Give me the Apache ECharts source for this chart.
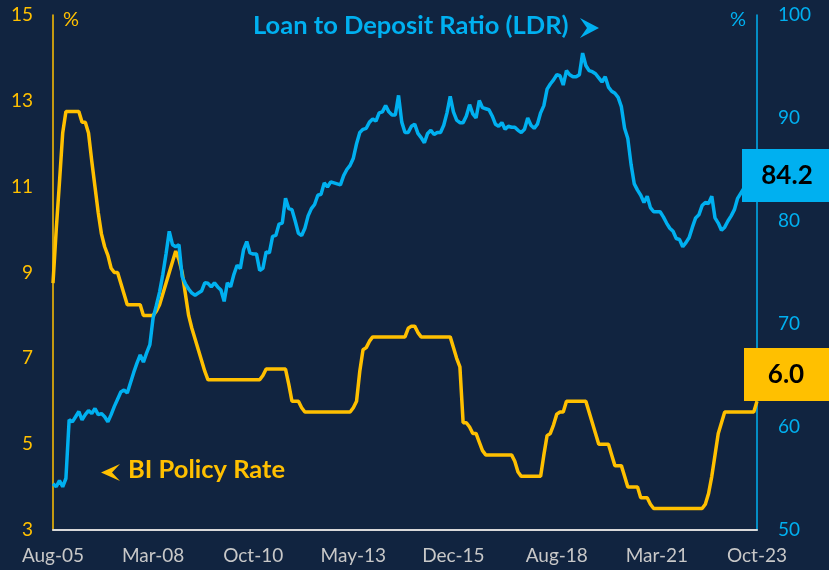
<!DOCTYPE html>
<html>
<head>
<meta charset="utf-8">
<script src="https://cdn.jsdelivr.net/npm/echarts@6/dist/echarts.min.js"></script>
<style>
  html, body { margin: 0; padding: 0; background: #112440; }
  #chart { width: 829px; height: 570px; }
</style>
</head>
<body>
<div id="chart"></div>
<script>
// monthly, Aug-05 .. Oct-23
var startYear = 2005, startMonth = 7, monthCount = 219;
var tickLabels = ['Aug-05', 'Mar-08', 'Oct-10', 'May-13', 'Dec-15', 'Aug-18', 'Mar-21', 'Oct-23'];
var leftTicks = [3, 5, 7, 9, 11, 13, 15];

// BI policy rate, % (left axis)
var biRate = [
  8.75, 10.0, 11.1, 12.25, 12.75, 12.75, 12.75, 12.75, 12.75, 12.5,
  12.5, 12.25, 11.6, 11.0, 10.4, 9.9, 9.6, 9.4, 9.1, 9.0,
  9.0, 8.75, 8.5, 8.25, 8.25, 8.25, 8.25, 8.25, 8.0, 8.0,
  8.0, 8.0, 8.1, 8.25, 8.5, 8.75, 9.0, 9.25, 9.5, 9.3,
  9.0, 8.5, 8.0, 7.7, 7.45, 7.2, 6.95, 6.7, 6.5, 6.5,
  6.5, 6.5, 6.5, 6.5, 6.5, 6.5, 6.5, 6.5, 6.5, 6.5,
  6.5, 6.5, 6.5, 6.5, 6.5, 6.6, 6.75, 6.75, 6.75, 6.75,
  6.75, 6.75, 6.75, 6.4, 6.0, 6.0, 6.0, 5.85, 5.75, 5.75,
  5.75, 5.75, 5.75, 5.75, 5.75, 5.75, 5.75, 5.75, 5.75, 5.75,
  5.75, 5.75, 5.75, 5.85, 6.0, 6.7, 7.2, 7.25, 7.4, 7.5,
  7.5, 7.5, 7.5, 7.5, 7.5, 7.5, 7.5, 7.5, 7.5, 7.5,
  7.7, 7.75, 7.75, 7.6, 7.5, 7.5, 7.5, 7.5, 7.5, 7.5,
  7.5, 7.5, 7.5, 7.5, 7.25, 7.0, 6.8, 5.5, 5.5, 5.4,
  5.25, 5.25, 5.05, 4.85, 4.75, 4.75, 4.75, 4.75, 4.75, 4.75,
  4.75, 4.75, 4.75, 4.6, 4.35, 4.25, 4.25, 4.25, 4.25, 4.25,
  4.25, 4.25, 4.75, 5.2, 5.25, 5.45, 5.7, 5.75, 5.75, 6.0,
  6.0, 6.0, 6.0, 6.0, 6.0, 6.0, 5.75, 5.5, 5.25, 5.0,
  5.0, 5.0, 5.0, 4.75, 4.5, 4.5, 4.5, 4.25, 4.0, 4.0,
  4.0, 4.0, 3.75, 3.75, 3.75, 3.6, 3.5, 3.5, 3.5, 3.5,
  3.5, 3.5, 3.5, 3.5, 3.5, 3.5, 3.5, 3.5, 3.5, 3.5,
  3.5, 3.5, 3.6, 3.85, 4.25, 4.75, 5.25, 5.5, 5.75, 5.75,
  5.75, 5.75, 5.75, 5.75, 5.75, 5.75, 5.75, 5.75, 6.0
];

// Loan to deposit ratio, % (right axis)
var ldr = [
  54.5, 54.2, 54.8, 54.2, 55.0, 60.7, 60.5, 61.0, 61.5, 60.7,
  61.2, 61.6, 61.3, 61.8, 61.2, 61.3, 61.0, 60.5, 61.2, 62.0,
  62.7, 63.4, 63.6, 63.3, 64.3, 65.3, 66.2, 67.0, 66.3, 67.2,
  68.0, 70.6, 71.8, 73.1, 74.8, 76.8, 79.0, 77.7, 77.5, 77.7,
  74.6, 73.9, 73.4, 73.0, 72.8, 73.0, 73.2, 74.0, 73.95, 73.6,
  74.0, 73.6, 73.3, 72.2, 74.0, 73.6, 74.8, 75.7, 75.4, 77.2,
  78.0, 76.9, 76.8, 76.8, 75.2, 75.4, 77.0, 76.9, 78.5, 78.6,
  79.7, 79.8, 82.2, 81.2, 81.1, 80.0, 78.8, 78.6, 79.3, 80.5,
  81.2, 81.6, 82.5, 82.6, 83.7, 83.3, 83.8, 83.7, 83.6, 83.5,
  84.4, 85.0, 85.4, 86.1, 87.5, 88.6, 88.9, 89.0, 89.6, 89.9,
  89.7, 90.5, 90.6, 91.2, 90.6, 90.3, 90.3, 92.2, 89.6, 88.6,
  88.6, 89.2, 89.4, 88.5, 88.1, 87.6, 88.5, 88.8, 88.4, 88.6,
  88.6, 89.3, 90.5, 92.1, 90.6, 89.8, 89.55, 89.55, 90.2, 91.3,
  90.4, 90.0, 91.7, 91.0, 90.9, 90.8, 90.2, 89.4, 89.2, 89.55,
  88.9, 89.2, 89.1, 89.1, 88.8, 88.6, 88.9, 90.0, 89.3, 89.0,
  89.4, 90.5, 91.2, 92.8, 93.3, 93.7, 94.2, 94.1, 93.2, 94.6,
  94.2, 94.0, 94.0, 94.2, 96.3, 95.1, 94.6, 94.5, 94.3, 93.9,
  93.5, 94.0, 93.0, 92.6, 92.4, 92.0, 91.1, 89.0, 88.0, 85.5,
  83.6, 83.0, 82.5, 81.8, 82.4, 81.3, 80.9, 80.9, 80.9, 80.4,
  79.8, 79.3, 79.0, 78.3, 78.2, 77.5, 77.9, 78.4, 79.4, 80.3,
  80.6, 81.5, 81.8, 81.7, 82.4, 80.3, 79.8, 79.1, 79.4, 80.0,
  80.5, 81.1, 82.2, 82.7, 83.2, 83.6, 83.9, 84.1, 84.2
];

var monNames = ['Jan','Feb','Mar','Apr','May','Jun','Jul','Aug','Sep','Oct','Nov','Dec'];
var months = [];
for (var i = 0; i < monthCount; i++) {
  var m = startMonth + i;
  var y = startYear + Math.floor(m / 12);
  months.push(monNames[m % 12] + '-' + String(y % 100).padStart(2, '0'));
}

var yellow = '#FFC000';
var blue = '#00B0F0';
var font = 'Lato, "Open Sans", sans-serif';

var chart = echarts.init(document.getElementById('chart'));
var option = {
  backgroundColor: '#112440',
  animation: false,
  grid: { left: 53, right: 72, top: 15, bottom: 40 },
  xAxis: {
    type: 'category',
    data: months,
    boundaryGap: false,
    axisLine: { lineStyle: { color: '#D9D9D9', width: 2 } },
    axisTick: { show: false },
    axisLabel: {
      color: '#C8C8C8',
      fontSize: 19,
      fontFamily: font,
      margin: 16,
      interval: function (idx, val) { return tickLabels.indexOf(val) >= 0; }
    },
    splitLine: { show: false }
  },
  yAxis: [{
    type: 'value',
    min: 3,
    max: 15,
    position: 'left',
    axisLine: { show: true, lineStyle: { color: yellow, width: 1.5 } },
    axisTick: { show: false },
    splitLine: { show: false },
    axisLabel: {
      color: yellow,
      fontSize: 19,
      fontFamily: font,
      margin: 20,
      customValues: leftTicks
    }
  }, {
    type: 'value',
    min: 50,
    max: 100,
    interval: 10,
    position: 'right',
    axisLine: { show: true, lineStyle: { color: blue, width: 1.5 } },
    axisTick: { show: false },
    splitLine: { show: false },
    axisLabel: { color: blue, fontSize: 19, fontFamily: font, margin: 21 }
  }],
  series: [{
    name: 'BI Policy Rate',
    type: 'line',
    yAxisIndex: 0,
    data: biRate,
    showSymbol: false,
    lineStyle: { color: yellow, width: 3.5 },
    z: 2
  }, {
    name: 'Loan to Deposit Ratio (LDR)',
    type: 'line',
    yAxisIndex: 1,
    data: ldr,
    showSymbol: false,
    lineStyle: { color: blue, width: 3.5 },
    z: 3
  }],
  graphic: [
    { type: 'text', left: 63, top: 10, z: 100,
      style: { text: '%', fill: yellow, font: '20px ' + font } },
    { type: 'text', left: 730, top: 10, z: 100,
      style: { text: '%', fill: blue, font: '20px ' + font } },
    { type: 'text', left: 253, top: 13, z: 100,
      style: { text: 'Loan to Deposit Ratio (LDR)', fill: blue, font: 'bold 25.5px ' + font } },
    { type: 'polygon', z: 100,
      shape: { points: [[580, 18], [599, 28], [580, 38], [587, 28]] },
      style: { fill: blue } },
    { type: 'polygon', z: 100,
      shape: { points: [[101, 472.5], [120, 464], [112, 472.5], [120, 481]] },
      style: { fill: yellow } },
    { type: 'text', left: 128, top: 457, z: 100,
      style: { text: 'BI Policy Rate', fill: yellow, font: 'bold 25.5px ' + font } },
    { type: 'rect', z: 100,
      shape: { x: 742, y: 149, width: 87, height: 53 },
      style: { fill: blue } },
    { type: 'text', z: 101, x: 787, y: 176,
      style: { text: ldr[ldr.length - 1].toFixed(1), fill: '#000', font: 'bold 26px ' + font,
               align: 'center', verticalAlign: 'middle' } },
    { type: 'rect', z: 100,
      shape: { x: 744, y: 348, width: 85, height: 53 },
      style: { fill: yellow } },
    { type: 'text', z: 101, x: 786, y: 375,
      style: { text: biRate[biRate.length - 1].toFixed(1), fill: '#000', font: 'bold 26px ' + font,
               align: 'center', verticalAlign: 'middle' } }
  ]
};
chart.setOption(option);
</script>
</body>
</html>
